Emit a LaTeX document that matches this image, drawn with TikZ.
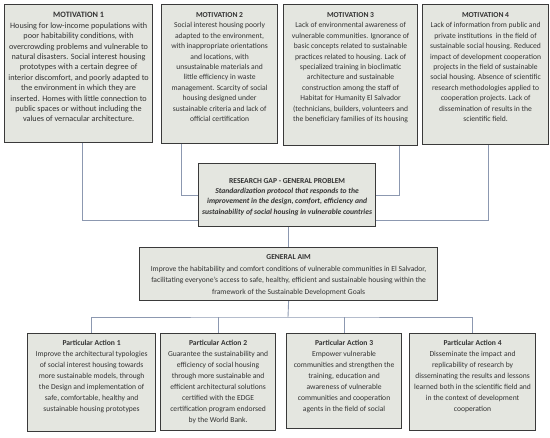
\documentclass[tikz,border=0pt]{standalone}
\usepackage{fontspec}
\setmainfont{Carlito}
\definecolor{boxfill}{HTML}{E4E6E0}
\definecolor{boxline}{HTML}{3A3A3A}
\definecolor{conn}{HTML}{8C98B0}
\definecolor{txt}{HTML}{333333}
\newcommand\boxtext[4]{\parbox[t][#2pt][t]{#1pt}{\centering\vspace*{#3pt}#4}}
\begin{document}
\begin{tikzpicture}[x=1pt,y=-1pt,
  box/.style={draw=boxline, line width=1.2pt, fill=boxfill, inner sep=0pt, anchor=north west, text=txt},
  motfont/.style={font=\fontsize{7.6}{10.4}\selectfont},
  pafont/.style={font=\fontsize{7.6}{11}\selectfont},
  link/.style={draw=conn, line width=0.9pt}]
\useasboundingbox (0,0) rectangle (550,438);

% Motivations
\node[box, font=\fontsize{8.2}{10.4}\selectfont] (m1) at (4,4) {\boxtext{148}{138}{8}{\textbf{MOTIVATION 1}\\
Housing for low-income populations with\\
poor habitability conditions, with\\
overcrowding problems and vulnerable to\\
natural disasters. Social interest housing\\
prototypes with a certain degree of\\
interior discomfort, and poorly adapted to\\
the environment in which they are\\
inserted. Homes with little connection to\\
public spaces or without including the\\
values of vernacular architecture.}};

\node[box, motfont] (m2) at (161,4) {\boxtext{116}{139}{8}{\textbf{MOTIVATION 2}\\
Social interest housing poorly\\
adapted to the environment,\\
with inappropriate orientations\\
and locations, with\\
unsustainable materials and\\
little efficiency in waste\\
management. Scarcity of social\\
housing designed under\\
sustainable criteria and lack of\\
official certification}};

\node[box, motfont] (m3) at (283,4) {\boxtext{134}{141}{8}{\textbf{MOTIVATION 3}\\
Lack of environmental awareness of\\
vulnerable communities. Ignorance of\\
basic concepts related to sustainable\\
practices related to housing. Lack of\\
specialized training in bioclimatic\\
architecture and sustainable\\
construction among the staff of\\
Habitat for Humanity El Salvador\\
(technicians, builders, volunteers and\\
the beneficiary families of its housing}};

\node[box, motfont] (m4) at (422,4) {\boxtext{126}{140}{8}{\textbf{MOTIVATION 4}\\
Lack of information from public and\\
private institutions\ \ in the field of\\
sustainable social housing. Reduced\\
impact of development cooperation\\
projects in the field of sustainable\\
social housing. Absence of scientific\\
research methodologies applied to\\
cooperation projects. Lack of\\
dissemination of results in the\\
scientific field.}};

% Research gap
\node[box, font=\fontsize{7.6}{10.2}\selectfont] (rg) at (198,163) {\boxtext{177}{63}{15}{\textbf{RESEARCH GAP - GENERAL PROBLEM}\\
\textbf{\itshape Standardization protocol that responds to the\\
improvement in the design, comfort, efficiency and\\
sustainability of social housing in vulnerable countries}}};

% General aim
\node[box, font=\fontsize{7.6}{11.5}\selectfont] (ga) at (139,247) {\boxtext{298}{53}{7}{\textbf{GENERAL AIM}\\
Improve the habitability and comfort conditions of vulnerable communities in El Salvador,\\
facilitating everyone's access to safe, healthy, efficient and sustainable housing within the\\
framework of the Sustainable Development Goals}};

% Particular actions
\node[box, pafont] (pa1) at (27,333) {\boxtext{128}{98}{7}{\textbf{Particular Action 1}\\
Improve the architectural typologies\\
of social interest housing towards\\
more sustainable models, through\\
the Design and implementation of\\
safe, comfortable, healthy and\\
sustainable housing prototypes}};

\node[box, pafont] (pa2) at (160,333) {\boxtext{115}{97}{7}{\textbf{Particular Action 2}\\
Guarantee the sustainability and\\
efficiency of social housing\\
through more sustainable and\\
efficient architectural solutions\\
certified with the EDGE\\
certification program endorsed\\
by the World Bank.}};

\node[box, pafont] (pa3) at (286,333) {\boxtext{115}{95}{7}{\textbf{Particular Action 3}\\
Empower vulnerable\\
communities and strengthen the\\
training, education and\\
awareness of vulnerable\\
communities and cooperation\\
agents in the field of social}};

\node[box, pafont] (pa4) at (409,333) {\boxtext{126}{97}{7}{\textbf{Particular Action 4}\\
Disseminate the impact and\\
replicability of research by\\
disseminating the results and lessons\\
learned both in the scientific field and\\
in the context of development\\
cooperation}};

% Connectors
\draw[link] ([xshift=4pt]m1.south) |- ([yshift=7pt]rg.south west);
\draw[link] ([xshift=20pt]m2.south west) |- (rg.west);
\draw[link] ([xshift=-19pt]m3.south east) |- (rg.east);
\draw[link] ([xshift=3pt]m4.south) |- ([yshift=7pt]rg.south east);
\draw[link] (ga.north) -- (ga.north |- rg.south);
\coordinate (bus) at (288,317);
\draw[link] (ga.south) -- (bus);
\draw[link] (pa1.north) |- (bus) -| (pa4.north);
\draw[link] (pa2.north) -- (pa2.north |- bus);
\draw[link] (pa3.north) -- (pa3.north |- bus);
\end{tikzpicture}
\end{document}
